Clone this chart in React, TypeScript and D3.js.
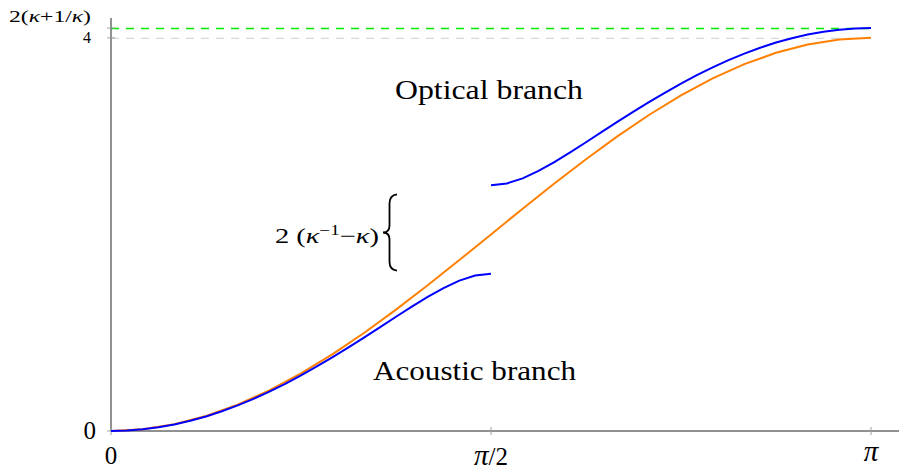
import React from "react";
import * as d3 from "d3";

// ω² along the wavevector k, sampled at 25 evenly spaced points per curve.
// Monatomic chain, k from 0 to π.
const monatomic = [
  0, 0.0171, 0.0681, 0.1522, 0.2679, 0.4133, 0.5858, 0.7825, 1.0, 1.2346,
  1.4824, 1.739, 2.0, 2.261, 2.5176, 2.7654, 3.0, 3.2175, 3.4142, 3.5867,
  3.7321, 3.8478, 3.9319, 3.9829, 4.0,
];
// Diatomic chain, acoustic branch, k from 0 to π/2.
const acoustic = [
  0, 0.0042, 0.0167, 0.0375, 0.0664, 0.1034, 0.1482, 0.2007, 0.2605, 0.3273,
  0.4007, 0.4804, 0.5659, 0.6566, 0.752, 0.8512, 0.9534, 1.0575, 1.1621,
  1.2653, 1.3641, 1.4544, 1.5298, 1.5814, 1.6,
];
// Diatomic chain, optical branch, k from π/2 to π.
const optical = [
  2.5, 2.5186, 2.5702, 2.6456, 2.7359, 2.8347, 2.9379, 3.0425, 3.1466, 3.2488,
  3.348, 3.4434, 3.5341, 3.6196, 3.6993, 3.7728, 3.8396, 3.8993, 3.9518,
  3.9966, 4.0336, 4.0625, 4.0833, 4.0958, 4.1,
];

const xTicks = [0, Math.PI / 2, Math.PI];
const yTicks = [0, 4, 4.1];
const gapLow = 1.6;
const gapHigh = 2.5;

const W = 899;
const H = 470;
const serif = "'Liberation Serif', 'DejaVu Serif', serif";

export default function App() {
  const x = d3.scaleLinear().domain([0, Math.PI]).range([111, 871]);
  const y = d3.scaleLinear().domain([0, 4.1]).range([431, 28]);

  const line = d3
    .line<[number, number]>()
    .x((d) => x(d[0]))
    .y((d) => y(d[1]));

  const sample = (vals: number[], k0: number, k1: number) =>
    vals.map((v, i) => [k0 + ((k1 - k0) * i) / (vals.length - 1), v] as [number, number]);

  const monoPath = line(sample(monatomic, 0, Math.PI)) || "";
  const acPath = line(sample(acoustic, 0, Math.PI / 2)) || "";
  const opPath = line(sample(optical, Math.PI / 2, Math.PI)) || "";

  const x0 = x(0);
  const yTop = 18;
  const xRight = W;

  // curly brace spanning the band gap
  const bTop = y(gapHigh) + 9;
  const bBot = y(gapLow) - 3;
  const bMid = (bTop + bBot) / 2;
  const bx = 389.5;
  const tip = 383;
  const arm = 397;
  const bracePath =
    `M${arm},${bTop} Q${bx},${bTop + 1} ${bx},${bTop + 9} L${bx},${bMid - 7} ` +
    `Q${bx},${bMid} ${tip},${bMid} Q${bx},${bMid} ${bx},${bMid + 7} ` +
    `L${bx},${bBot - 9} Q${bx},${bBot - 1} ${arm},${bBot}`;

  const tickGray = "#a0a0a0";

  return (
    <svg
      width={W}
      height={H}
      style={{ position: "absolute", left: 0, top: 0, background: "#fff" }}
      fontFamily={serif}
    >
      {/* reference levels */}
      <line x1={x0} x2={x(Math.PI)} y1={y(4) + 0.5} y2={y(4) + 0.5} stroke="#d8d8d8" strokeWidth={1.3} strokeDasharray="8,7" />
      <line x1={x0} x2={x(Math.PI)} y1={y(4.1) + 0.5} y2={y(4.1) + 0.5} stroke="#00ee00" strokeWidth={1.4} strokeDasharray="8,7" />

      {/* axes */}
      <line x1={x0} x2={x0} y1={y(0)} y2={yTop} stroke="#222" strokeWidth={1} />
      <line x1={x0} x2={xRight} y1={y(0)} y2={y(0)} stroke="#222" strokeWidth={1} />

      {xTicks.map((t, i) => (
        <line key={"xt" + i} x1={x(t)} x2={x(t)} y1={y(0) - 4} y2={y(0) + 4} stroke={tickGray} strokeWidth={1} />
      ))}
      {yTicks.map((t, i) => (
        <line key={"yt" + i} x1={x0 - 4} x2={x0 + 4} y1={y(t)} y2={y(t)} stroke={tickGray} strokeWidth={1} />
      ))}

      {/* curves */}
      <path d={monoPath} fill="none" stroke="#ff8000" strokeWidth={2} />
      <path d={acPath} fill="none" stroke="#0000ff" strokeWidth={2} />
      <path d={opPath} fill="none" stroke="#0000ff" strokeWidth={2} />

      {/* x tick labels */}
      <text x={x(0)} y={464} fontSize={25} textAnchor="middle">0</text>
      <text x={x(Math.PI / 2)} y={465} fontSize={25} textAnchor="middle">
        <tspan fontStyle="italic" fontSize={29}>π</tspan>/2
      </text>
      <text x={x(Math.PI)} y={461} fontSize={29} fontStyle="italic" textAnchor="middle">π</text>

      {/* y tick labels */}
      <text x={96} y={y(0) + 8} fontSize={25} textAnchor="end">0</text>
      <text x={91} y={y(4) + 5} fontSize={16} textAnchor="end">4</text>
      <text x={91} y={y(4.1) - 6} fontSize={16} textAnchor="end" textLength={82} lengthAdjust="spacingAndGlyphs">
        2(<tspan fontStyle="italic">κ</tspan>+1/<tspan fontStyle="italic">κ</tspan>)
      </text>

      {/* branch labels */}
      <text x={489} y={99} fontSize={27} textAnchor="middle" textLength={188} lengthAdjust="spacingAndGlyphs">
        Optical branch
      </text>
      <text x={474.5} y={380} fontSize={27} textAnchor="middle" textLength={203} lengthAdjust="spacingAndGlyphs">
        Acoustic branch
      </text>

      {/* gap annotation */}
      <path d={bracePath} fill="none" stroke="#000" strokeWidth={1.8} />
      <text x={379} y={bMid + 10} fontSize={21} textAnchor="end" textLength={104} lengthAdjust="spacingAndGlyphs">
        2 (<tspan fontStyle="italic">κ</tspan>
        <tspan fontSize={14} dy={-8}>−1</tspan>
        <tspan dy={8}>−</tspan>
        <tspan fontStyle="italic">κ</tspan>)
      </text>
    </svg>
  );
}
